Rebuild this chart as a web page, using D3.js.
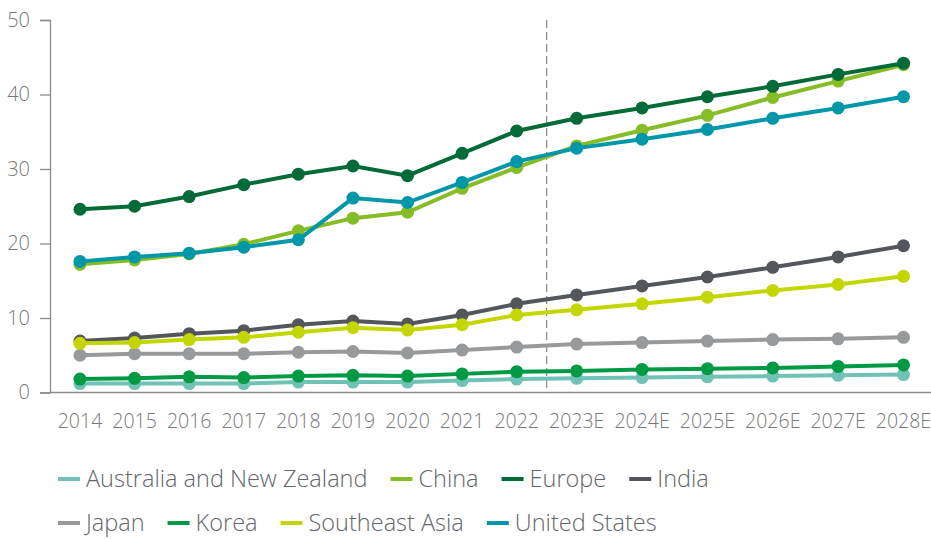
<!DOCTYPE html>
<html>
<head>
<meta charset="utf-8">
<script src="https://cdn.jsdelivr.net/npm/d3@7"></script>
<style>
  body { margin: 0; background: #fff; }
  svg text { font-family: 'Open Sans', sans-serif; font-weight: 300; }
</style>
</head>
<body>
<script>
// categories and series
let years = ['2014', '2015', '2016', '2017', '2018', '2019', '2020', '2021', '2022',
             '2023E', '2024E', '2025E', '2026E', '2027E', '2028E']
let regions = ['Australia and New Zealand', 'China', 'Europe', 'India',
               'Japan', 'Korea', 'Southeast Asia', 'United States']
let colors = ['#6fc2b4', '#86bc25', '#046a38', '#53565a', '#97999b', '#009a44', '#c4d600', '#0097a9']

let anz    = [1.2, 1.2, 1.2, 1.2, 1.4, 1.4, 1.4, 1.6, 1.8, 1.9, 2.0, 2.1, 2.2, 2.3, 2.4]
let china  = [17.2, 17.8, 18.6, 19.9, 21.7, 23.4, 24.2, 27.4, 30.2, 33.1, 35.2, 37.2, 39.6, 41.8, 44.0]
let europe = [24.6, 25.0, 26.3, 27.9, 29.3, 30.4, 29.1, 32.1, 35.1, 36.8, 38.2, 39.7, 41.1, 42.7, 44.2]
let india  = [6.9, 7.3, 7.9, 8.3, 9.1, 9.6, 9.2, 10.4, 11.9, 13.1, 14.3, 15.5, 16.8, 18.2, 19.7]
let japan  = [5.0, 5.2, 5.2, 5.2, 5.4, 5.5, 5.3, 5.7, 6.1, 6.5, 6.7, 6.9, 7.1, 7.2, 7.4]
let korea  = [1.8, 1.9, 2.1, 2.0, 2.2, 2.3, 2.2, 2.5, 2.8, 2.9, 3.1, 3.2, 3.3, 3.5, 3.7]
let seAsia = [6.6, 6.7, 7.1, 7.4, 8.1, 8.7, 8.4, 9.1, 10.4, 11.1, 11.9, 12.8, 13.7, 14.5, 15.6]
let usa    = [17.6, 18.2, 18.7, 19.5, 20.5, 26.1, 25.5, 28.2, 31.0, 32.8, 34.0, 35.3, 36.8, 38.2, 39.7]
let yTicks = [0, 10, 20, 30, 40, 50]
let lastActual = '2022'

let series = [anz, china, europe, india, japan, korea, seAsia, usa]
  .map((values, i) => ({ name: regions[i], color: colors[i], values: values }))

let width = 931, height = 539
let plot = { left: 50, top: 20, bottom: 392.5, first: 80, last: 903.5 }

let svg = d3.select('body')
  .append('svg')
  .attr('width', width)
  .attr('height', height)

let y = d3.scaleLinear()
  .domain([0, 50])
  .range([plot.bottom, plot.top])

// x labels sit side by side, so point spacing follows label widths
let labelSize = 19.5
let probe = svg.append('g')
  .selectAll('text')
  .data(years)
  .enter()
  .append('text')
  .style('font-size', labelSize + 'px')
  .text(d => d)
let widths = probe.nodes().map(n => n.getComputedTextLength())
probe.remove()

let gap = 10
let offsets = []
let acc = 0
widths.forEach((w, i) => {
  if (i > 0) acc += widths[i - 1] / 2 + gap + w / 2
  offsets.push(acc)
})

let xPos = d3.scaleLinear()
  .domain([0, acc])
  .range([plot.first, plot.last])
let x = d3.scaleOrdinal()
  .domain(years)
  .range(offsets.map(o => xPos(o)))

// y axis
let yAxis = svg.append('g')
  .attr('transform', 'translate(' + plot.left + ',0)')
  .call(d3.axisLeft(y).tickValues(yTicks).tickSize(10).tickPadding(10))
yAxis.select('.domain').attr('stroke', '#8c8c8c').attr('stroke-width', 1.3)
yAxis.selectAll('.tick line').attr('stroke', '#8c8c8c').attr('stroke-width', 1.3)
yAxis.selectAll('.tick text')
  .attr('fill', '#76787b')
  .style('font-size', '20px')
  .style('font-family', "'Open Sans', sans-serif")
  .style('font-weight', 300)

// x axis
svg.append('line')
  .attr('x1', plot.left)
  .attr('x2', width)
  .attr('y1', y(0))
  .attr('y2', y(0))
  .attr('stroke', '#8c8c8c')
  .attr('stroke-width', 1.3)

svg.append('g')
  .selectAll('text')
  .data(years)
  .enter()
  .append('text')
  .attr('x', d => x(d))
  .attr('y', 428)
  .attr('text-anchor', 'middle')
  .attr('fill', '#76787b')
  .style('font-size', labelSize + 'px')
  .text(d => d)

// actual / forecast divider
let idx = years.indexOf(lastActual)
let divX = (x(years[idx]) + x(years[idx + 1])) / 2
svg.append('line')
  .attr('x1', divX)
  .attr('x2', divX)
  .attr('y1', plot.top)
  .attr('y2', plot.bottom)
  .attr('stroke', '#6d6e70')
  .attr('stroke-width', 1)
  .attr('stroke-dasharray', '8,4')

// lines and markers
let line = d3.line()
  .x((d, i) => x(years[i]))
  .y(d => y(d))

let groups = svg.append('g')
  .selectAll('g')
  .data(series)
  .enter()
  .append('g')

groups.append('path')
  .attr('d', d => line(d.values))
  .attr('fill', 'none')
  .attr('stroke', d => d.color)
  .attr('stroke-width', 4)

groups.selectAll('circle')
  .data(d => d.values.map(v => ({ v: v, color: d.color })))
  .enter()
  .append('circle')
  .attr('cx', (d, i) => x(years[i]))
  .attr('cy', d => y(d.v))
  .attr('r', 6.5)
  .attr('fill', d => d.color)

// legend, two rows that flow left to right
let legendRows = [regions.slice(0, 4), regions.slice(4)]
let legendY = [479, 523]
let legend = svg.append('g').attr('class', 'legend')

legendRows.forEach((row, r) => {
  let cx = 58
  row.forEach(name => {
    let c = colors[regions.indexOf(name)]
    legend.append('line')
      .attr('x1', cx)
      .attr('x2', cx + 22)
      .attr('y1', legendY[r])
      .attr('y2', legendY[r])
      .attr('stroke', c)
      .attr('stroke-width', 4)
    let t = legend.append('text')
      .attr('x', cx + 28)
      .attr('y', legendY[r])
      .attr('dy', '0.35em')
      .attr('fill', '#63666a')
      .style('font-size', '23.5px')
      .text(name)
    cx += 28 + t.node().getComputedTextLength() + 23
  })
})
</script>
</body>
</html>
